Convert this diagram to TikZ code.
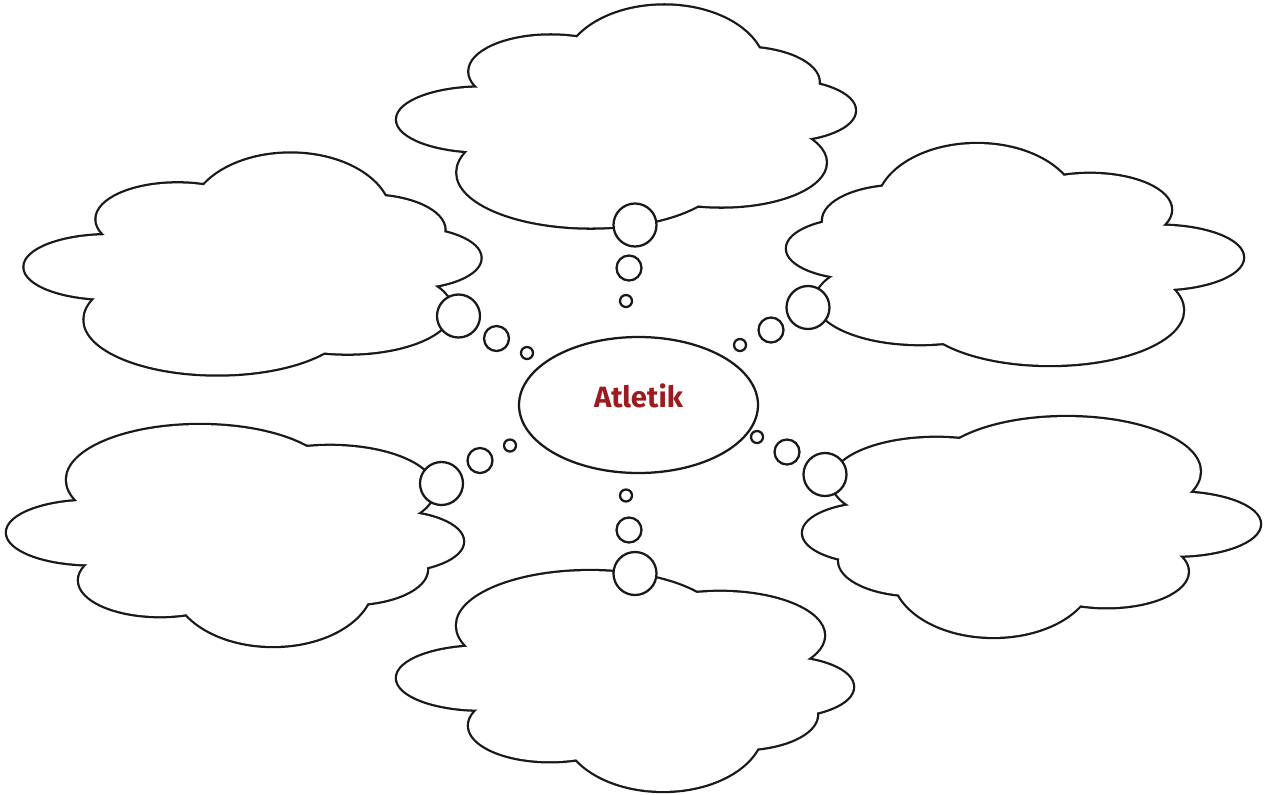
\documentclass[tikz,border=0pt]{standalone}
\usepackage{fontspec}
\setsansfont{Fira Sans}
\usetikzlibrary{shapes.geometric}
\definecolor{atred}{HTML}{9B1B1E}
\tikzset{
  outline/.style={line width=1.7pt, draw=black!90},
  bubble/.style={circle, outline, fill=white, inner sep=0pt},
  bigb/.style={bubble, minimum size=32.25pt},
  midb/.style={bubble, minimum size=18.75pt},
  smallb/.style={bubble, minimum size=9pt},
  topic/.style={ellipse, outline, fill=white, minimum width=179.25pt, minimum height=102pt,
    text depth=13.5pt,
    font=\sffamily\bfseries\fontsize{22}{26}\selectfont, text=atred}
}
\newcommand{\cloudat}[4]{%
  \begin{scope}[shift={(#1,#2)},xscale=#3,yscale=#4]
    \foreach \ex/\ey/\rx/\ry in {38/-47/100/64,-75/-45/81/36,-143/3/85/32,-35/56/133/55,95/46/104/44,155/-6/73/30,115/-34/77/35}
      {\draw[line width=3.4pt, draw=black!90] (\ex,\ey) ellipse [x radius=\rx, y radius=\ry];}
    \foreach \ex/\ey/\rx/\ry in {38/-47/100/64,-75/-45/81/36,-143/3/85/32,-35/56/133/55,95/46/104/44,155/-6/73/30,115/-34/77/35,1/3/170/60}
      {\fill[white] (\ex,\ey) ellipse [x radius=\rx, y radius=\ry];}
  \end{scope}}
\begin{document}
\begin{tikzpicture}[x=0.75pt,y=-0.75pt]
\useasboundingbox (0,0) rectangle (1264,794);
\fill[white] (0,0) rectangle (1264,794);
% clouds
\cloudat{626}{116.5}{1.004}{1}
\cloudat{252.5}{264}{1}{0.995}
\cloudat{1015}{254.5}{-1}{0.995}
\cloudat{235}{535.5}{1}{-0.995}
\cloudat{1031.5}{527}{-1.002}{-0.99}
\cloudat{625}{681}{1}{-0.99}
% thought bubbles
\node[bigb]   (tl1) at (458.5,316) {};
\node[midb]   (tl2) at (496.5,338.5) {};
\node[smallb] (tl3) at (527,353) {};
\node[bigb]   (t1) at (635,225) {};
\node[midb]   (t2) at (629,268) {};
\node[smallb] (t3) at (626,301) {};
\node[bigb]   (tr1) at (808,307.5) {};
\node[midb]   (tr2) at (771,330) {};
\node[smallb] (tr3) at (740,345) {};
\node[bigb]   (bl1) at (441.5,483.5) {};
\node[midb]   (bl2) at (480,460.5) {};
\node[smallb] (bl3) at (510,445.5) {};
\node[bigb]   (b1) at (635,573.5) {};
\node[midb]   (b2) at (629,530) {};
\node[smallb] (b3) at (626,495.5) {};
\node[bigb]   (br1) at (825,474.5) {};
\node[midb]   (br2) at (787,452) {};
\node[smallb] (br3) at (757,437) {};
% centre
\node[topic] (centre) at (638.5,405) {Atletik};
\end{tikzpicture}
\end{document}
